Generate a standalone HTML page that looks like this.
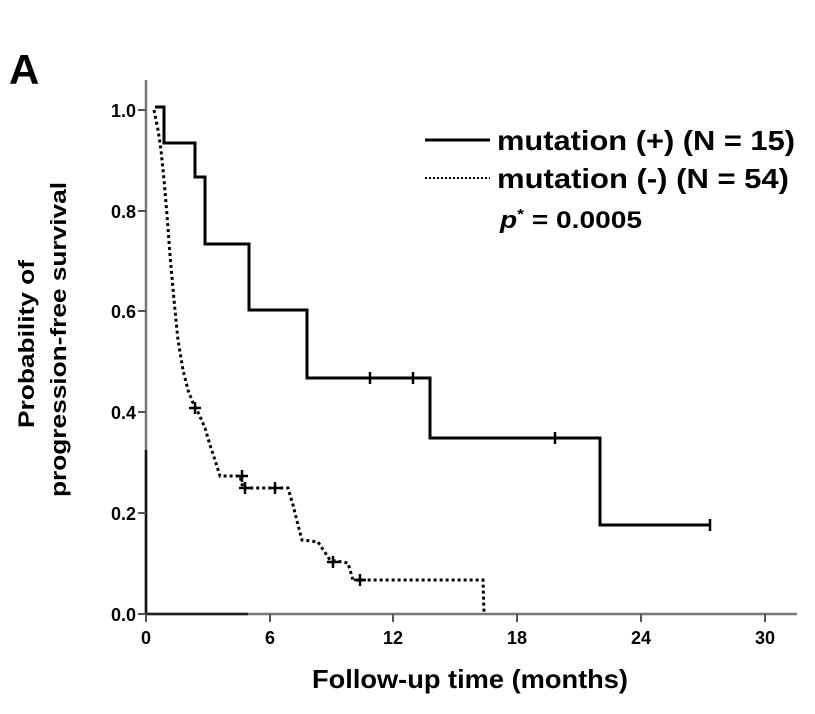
<!DOCTYPE html>
<html><head><style>body{margin:0;background:#fff}</style></head><body>
<svg width="815" height="709" xmlns="http://www.w3.org/2000/svg" font-family="Liberation Sans, Arial, sans-serif" font-weight="bold">
<rect width="815" height="709" fill="#fff"/>
<text x="9" y="84" font-size="42">A</text>
<line x1="146" y1="80" x2="146" y2="615" stroke="#777" stroke-width="2.5"/>
<line x1="146" y1="450" x2="146" y2="615" stroke="#111" stroke-width="2.5"/>
<line x1="145" y1="614" x2="797" y2="614" stroke="#777" stroke-width="2.5"/>
<line x1="145" y1="614" x2="248" y2="614" stroke="#222" stroke-width="2.5"/>
<g stroke="#555" stroke-width="2">
<line x1="138" y1="110" x2="146" y2="110"/><line x1="138" y1="211" x2="146" y2="211"/>
<line x1="138" y1="311" x2="146" y2="311"/><line x1="138" y1="412" x2="146" y2="412"/>
<line x1="138" y1="513" x2="146" y2="513"/><line x1="138" y1="614" x2="146" y2="614"/>
<line x1="146" y1="614" x2="146" y2="622"/><line x1="270" y1="614" x2="270" y2="622"/>
<line x1="393" y1="614" x2="393" y2="622"/><line x1="517" y1="614" x2="517" y2="622"/>
<line x1="641" y1="614" x2="641" y2="622"/><line x1="765" y1="614" x2="765" y2="622"/>
</g>
<g font-size="18" text-anchor="end">
<text x="136" y="117">1.0</text><text x="136" y="218">0.8</text><text x="136" y="318">0.6</text>
<text x="136" y="419">0.4</text><text x="136" y="520">0.2</text><text x="136" y="621">0.0</text>
</g>
<g font-size="18" text-anchor="middle">
<text x="146" y="644">0</text><text x="270" y="644">6</text><text x="393" y="644">12</text>
<text x="517" y="644">18</text><text x="641" y="644">24</text><text x="765" y="644">30</text>
</g>
<text x="312" y="688" font-size="26" textLength="316" lengthAdjust="spacingAndGlyphs">Follow-up time (months)</text>
<text transform="translate(34,428) rotate(-90)" font-size="22" textLength="168" lengthAdjust="spacingAndGlyphs">Probability of</text>
<text transform="translate(66,497) rotate(-90)" font-size="22" textLength="315" lengthAdjust="spacingAndGlyphs">progression-free survival</text>
<path d="M155,107 H164 V143 H195 V177 H205 V244 H249 V310 H307 V378 H430 V438 H600 V525 H710" fill="none" stroke="#000" stroke-width="3"/>
<g stroke="#000" stroke-width="2.5">
<line x1="370" y1="372" x2="370" y2="384"/><line x1="413" y1="372" x2="413" y2="384"/>
<line x1="555" y1="432" x2="555" y2="444"/><line x1="710" y1="519" x2="710" y2="531"/>
</g>
<path d="M154,110 L158,130 L161,150 L164,180 L167,215 L170,255 L174,300 L178,340 L183,370 L188,390 L193,403 L198,412 L205,428 L210,445 L215,460 L220,476 L240,476 L243,488 L288,488 L293,505 L298,525 L302,540 L318,542 L322,548 L330,560 L348,563 L353,580 L483,580 L484,614" fill="none" stroke="#000" stroke-width="3" stroke-dasharray="3,3"/>
<g stroke="#000" stroke-width="2.5">
<line x1="189" y1="408" x2="201" y2="408"/><line x1="195" y1="402" x2="195" y2="414"/>
<line x1="236" y1="476" x2="248" y2="476"/><line x1="242" y1="470" x2="242" y2="482"/>
<line x1="239" y1="488" x2="251" y2="488"/><line x1="245" y1="482" x2="245" y2="494"/>
<line x1="269" y1="488" x2="281" y2="488"/><line x1="275" y1="482" x2="275" y2="494"/>
<line x1="327" y1="562" x2="339" y2="562"/><line x1="333" y1="556" x2="333" y2="568"/>
<line x1="354" y1="580" x2="366" y2="580"/><line x1="360" y1="574" x2="360" y2="586"/>
</g>
<line x1="425" y1="140" x2="490" y2="140" stroke="#000" stroke-width="3"/>
<line x1="425" y1="178" x2="490" y2="178" stroke="#000" stroke-width="2" stroke-dasharray="2,2"/>
<text x="497" y="150" font-size="28" textLength="298" lengthAdjust="spacingAndGlyphs">mutation (+) (N = 15)</text>
<text x="497" y="188" font-size="28" textLength="292" lengthAdjust="spacingAndGlyphs">mutation (-) (N = 54)</text>
<text x="500" y="228" font-size="24" textLength="142" lengthAdjust="spacingAndGlyphs"><tspan font-style="italic">p</tspan><tspan font-size="15" dy="-9">*</tspan><tspan dy="9"> = 0.0005</tspan></text>
</svg>
</body></html>
